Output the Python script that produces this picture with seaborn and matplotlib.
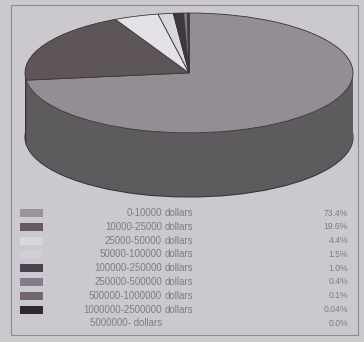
import matplotlib
matplotlib.use("Agg")
import matplotlib.pyplot as plt
import matplotlib.colors as mcolors
from matplotlib.patches import Rectangle
import seaborn as sns

ranges = ["0-10000", "10000-25000", "25000-50000", "50000-100000", "100000-250000",
          "250000-500000", "500000-1000000", "1000000-2500000", "5000000- dollars"]
units = ["dollars"] * 8 + [""]
values = [73.4, 19.6, 4.4, 1.5, 1.0, 0.4, 0.1, 0.04, 0.0]
pct_labels = ["73.4%", "19.6%", "4.4%", "1.5%", "1.0%", "0.4%", "0.1%", "0.04%", "0.0%"]

colors = ["#938e93", "#5e5559", "#e4e2e8", "#d8d6de", "#3e3640",
          "#7c7686", "#6b5e66", "#2e2535", "#cbc9ce"]
swatch_colors = ["#9a949a", "#655a60", "#d9d7de", "#d0ced6", "#4a4250",
                 "#827c8c", "#74666e", "#2e2535", None]

sns.set_theme(style="white")
plt.rcParams['font.family'] = ['Liberation Sans', 'DejaVu Sans']

bg = "#cbc9ce"
fig = plt.figure(figsize=(3.64, 3.42), dpi=100, facecolor=bg)

W, H = 364, 342
ax = fig.add_axes([25 / W, (H - 197) / H, 328 / W, 184 / H])
ax.set_facecolor("none")
D = 1.07
n_layers = 64

def darken(c, f):
    r, g, b = mcolors.to_rgb(c)
    return (r * f, g * f, b * f)

side_colors = [darken(c, 0.64) for c in colors]
for i in range(n_layers + 1):
    y = -D + D * i / n_layers
    lw = 0.8 if i == 0 else 0
    ax.pie(values, colors=side_colors, startangle=90, counterclock=False,
           center=(0, y), radius=1,
           wedgeprops=dict(linewidth=lw, edgecolor="#3a3438"))
ax.pie(values, colors=colors, startangle=90, counterclock=False,
       center=(0, 0), radius=1,
       wedgeprops=dict(linewidth=0.6, edgecolor="#3d383c"))
ax.set_aspect("auto")
ax.set_xlim(-1.0, 1.0)
ax.set_ylim(-1 - D, 1.0)
ax.axis("off")

ov = fig.add_axes([0, 0, 1, 1])
ov.set_xlim(0, W)
ov.set_ylim(H, 0)
ov.axis("off")
ov.patch.set_alpha(0)
ov.add_patch(Rectangle((11, 5), 347, 330, fill=False, edgecolor="#8e8a92", linewidth=0.8))

row_y0 = 213
row_dy = 13.8
txt_color = "#807b88"
for i, (rg, un, pct, sc) in enumerate(zip(ranges, units, pct_labels, swatch_colors)):
    y = row_y0 + i * row_dy
    if sc is not None:
        ov.add_patch(Rectangle((20, y - 4), 23, 8, facecolor=sc, edgecolor="none"))
    ov.text(162, y, rg, ha="right", va="center", fontsize=7, color=txt_color)
    if un:
        ov.text(165, y, un, ha="left", va="center", fontsize=7, color=txt_color)
    ov.text(348, y, pct, ha="right", va="center", fontsize=6.2, color=txt_color)

fig.savefig("out.png", dpi=100, facecolor=bg)
